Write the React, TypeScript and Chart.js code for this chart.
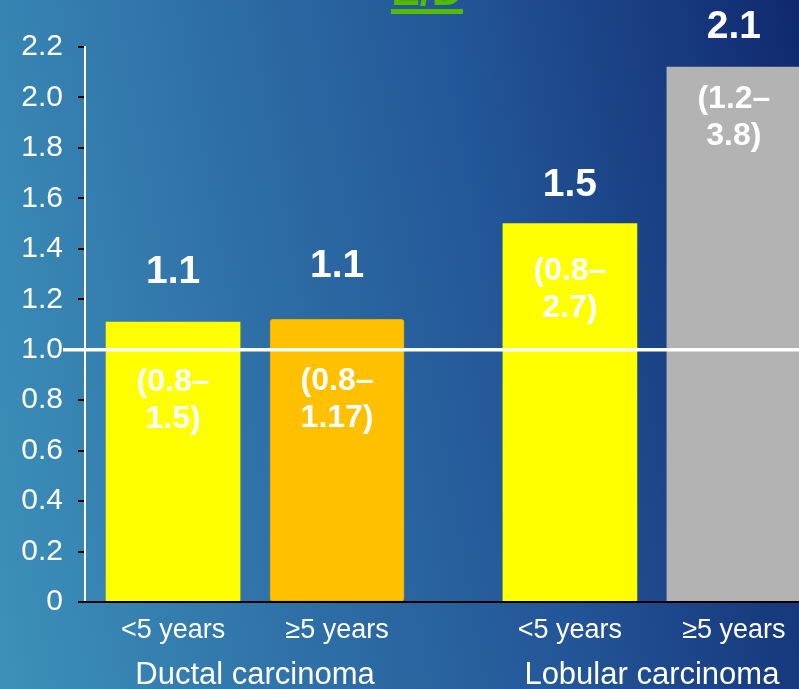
import React, { useEffect, useRef } from 'react';
import { Chart, registerables } from 'chart.js';

Chart.register(...registerables);

// ---- data ----
const categories = ['<5 years', '≥5 years', '<5 years', '≥5 years'];
const groups = ['Ductal carcinoma', 'Lobular carcinoma'];
const groupOfCategory = [0, 0, 1, 1];
const hazardRatios = [1.11, 1.12, 1.5, 2.12];
const valueLabels = ['1.1', '1.1', '1.5', '2.1'];
const ciLabels = [
  ['(0.8–', '1.5)'],
  ['(0.8–', '1.17)'],
  ['(0.8–', '2.7)'],
  ['(1.2–', '3.8)'],
];
const yTickLabels = ['0', '0.2', '0.4', '0.6', '0.8', '1.0', '1.2', '1.4', '1.6', '1.8', '2.0', '2.2'];
const referenceValue = 1.0;
const headerText = 'E/D';

// ---- style ----
const FONT = '"Liberation Sans", Arial, Helvetica, sans-serif';
const barColors = ['#FFFF00', '#FFC000', '#FFFF00', '#B3B3B3'];
const barBorders = ['#FFFF00', '#E9AE00', '#FFFF00', '#B3B3B3'];
const valueLift = [50, 53, 38, 40];
const ciDrop = [60, 62, 48, 32];
const CI_LINE = 37;
const GROUP_GAP = 0.42;
const X_MIN = -0.537;
const X_MAX = 3.817;

const xPos = (i: number) => i + groupOfCategory[i] * GROUP_GAP;
const groupCenter = (g: number) => {
  const idx = categories.map((_, i) => i).filter((i) => groupOfCategory[i] === g);
  return idx.reduce((s, i) => s + xPos(i), 0) / idx.length;
};

const annotations = {
  id: 'annotations',
  afterDatasetsDraw(chart: any) {
    const ctx = chart.ctx as CanvasRenderingContext2D;
    const yScale = chart.scales.y;
    const meta = chart.getDatasetMeta(0);
    ctx.save();
    // reference line
    const ry = yScale.getPixelForValue(referenceValue);
    ctx.strokeStyle = '#FFFFFF';
    ctx.lineWidth = 3.5;
    ctx.beginPath();
    ctx.moveTo(63, ry);
    ctx.lineTo(chart.width, ry);
    ctx.stroke();
    // labels
    ctx.fillStyle = '#FFFFFF';
    ctx.textAlign = 'center';
    ctx.textBaseline = 'middle';
    meta.data.forEach((bar: any, i: number) => {
      const p = bar.getProps(['x', 'y'], true);
      ctx.font = `bold 39px ${FONT}`;
      ctx.fillText(valueLabels[i], p.x, p.y - valueLift[i]);
      ctx.font = `bold 32px ${FONT}`;
      ciLabels[i].forEach((line, j) => {
        ctx.fillText(line, p.x, p.y + ciDrop[i] + j * CI_LINE);
      });
    });
    // header (cut off at top)
    ctx.fillStyle = '#55BB00';
    ctx.font = `bold 43px ${FONT}`;
    ctx.textAlign = 'center';
    ctx.textBaseline = 'alphabetic';
    ctx.fillText(headerText, 427, 5);
    ctx.fillRect(391, 9, 72, 5);
    ctx.restore();
  },
};

export default function App() {
  const canvasRef = useRef<HTMLCanvasElement | null>(null);

  useEffect(() => {
    if (!canvasRef.current) return;
    const chart = new Chart(canvasRef.current, {
      type: 'bar',
      data: {
        datasets: [
          {
            data: hazardRatios.map((v, i) => ({ x: xPos(i), y: v })),
            backgroundColor: barColors,
            borderColor: barBorders,
            borderWidth: [0, 1, 0, 0],
            borderRadius: [0, 3, 0, 0],
            borderSkipped: [true, false, true, true] as any,
            barThickness: 134,
          } as any,
        ],
      },
      options: {
        animation: false,
        responsive: false,
        devicePixelRatio: 1,
        layout: { padding: { top: 47, left: 0, right: 0, bottom: 0 } },
        plugins: { legend: { display: false }, tooltip: { enabled: false }, title: { display: false } },
        scales: {
          x: {
            type: 'linear',
            min: X_MIN,
            max: X_MAX,
            offset: false,
            position: 'bottom',
            weight: 0,
            afterBuildTicks: (s: any) => {
              s.ticks = categories.map((_, i) => ({ value: xPos(i) }));
            },
            afterFit: (s: any) => {
              s.height = 45;
            },
            grid: { display: false, drawTicks: false, offset: false },
            border: { display: true, color: '#000000', width: 2, z: 1 },
            ticks: {
              autoSkip: false,
              maxRotation: 0,
              minRotation: 0,
              padding: 12,
              color: '#FFFFFF',
              font: { size: 27, family: FONT },
              callback: (_v: any, i: number) => categories[i],
            },
          },
          x2: {
            type: 'linear',
            min: X_MIN,
            max: X_MAX,
            offset: false,
            position: 'bottom',
            weight: 1,
            afterBuildTicks: (s: any) => {
              s.ticks = groups.map((_, g) => ({ value: groupCenter(g) }));
            },
            afterFit: (s: any) => {
              s.height = 42;
            },
            grid: { display: false, drawTicks: false, offset: false },
            border: { display: false },
            ticks: {
              autoSkip: false,
              maxRotation: 0,
              minRotation: 0,
              padding: 10,
              color: '#FFFFFF',
              font: { size: 31, family: FONT },
              callback: (_v: any, i: number) => groups[i],
            },
          },
          y: {
            min: 0,
            max: 2.2,
            afterFit: (s: any) => {
              s.width = 85;
            },
            grid: { drawOnChartArea: false, color: '#000000', lineWidth: 2, tickLength: 7 },
            border: { display: true, color: '#FFFFFF', width: 2 },
            ticks: {
              stepSize: 0.2,
              padding: 15,
              color: '#FFFFFF',
              font: { size: 30, family: FONT },
              callback: (_v: any, i: number) => yTickLabels[i],
            },
          },
        } as any,
      },
      plugins: [annotations],
    });
    return () => chart.destroy();
  }, []);

  return (
    <div
      style={{
        position: 'fixed',
        left: 0,
        top: 0,
        width: 799,
        height: 689,
        overflow: 'hidden',
        background: 'linear-gradient(80deg, #3c91ba 0%, #2e6fa6 35%, #235698 62%, #10296f 100%)',
      }}
    >
      <canvas ref={canvasRef} width={799} height={689} style={{ display: 'block' }} />
    </div>
  );
}
